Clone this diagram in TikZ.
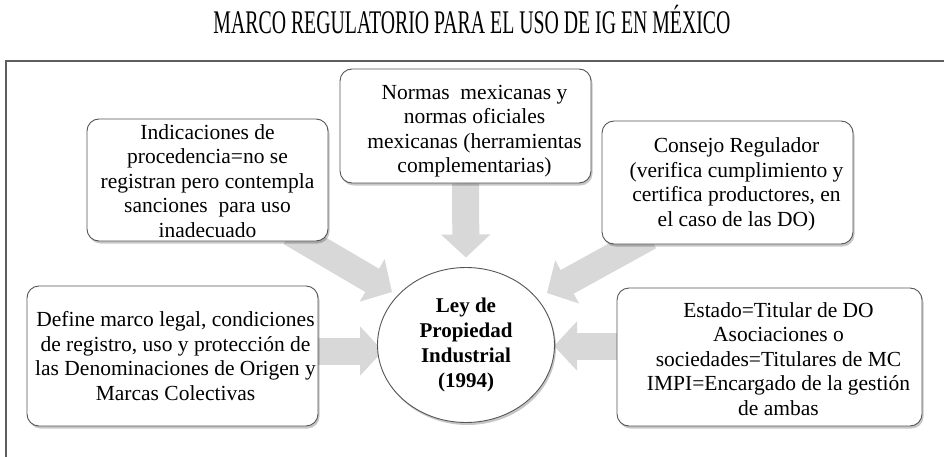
\documentclass[tikz,border=0pt]{standalone}
\usepackage{fontspec}
\setmainfont{Liberation Serif}
\newfontfamily\titlefont[FakeStretch=0.6]{Liberation Serif}
\usetikzlibrary{arrows.meta,shadows,shapes.geometric}
\definecolor{framegray}{HTML}{5E5E5E}
\definecolor{boxline}{HTML}{555555}
\definecolor{arrowgray}{HTML}{D8D8D8}
\pgfdeclarelayer{bg}
\pgfsetlayers{bg,main}
\begin{document}
\begin{tikzpicture}[x=1pt,y=1pt,
  box/.style={draw=boxline, line width=0.9pt, fill=white, rounded corners=12pt, inner sep=0pt,
    drop shadow={shadow xshift=1.5pt, shadow yshift=-2.5pt, opacity=0.22, fill=black}},
  txt/.style={align=center, font=\fontsize{21.5}{24.5}\selectfont, inner sep=0pt},
  bigarrow/.style={draw=arrowgray, line width=27pt, -{Triangle[width=48pt,length=23pt]}},
]
\useasboundingbox (0,0) rectangle (944,-457);

% title
\node[anchor=base, inner sep=0pt, font=\titlefont\fontsize{33}{36}\selectfont] (title) at (472,-34)
  {MARCO REGULATORIO PARA EL USO DE IG EN MÉXICO};

% frame
\draw[framegray, line width=1.8pt] (6,-457) -- (6,-61) -- (944,-61);

% boxes
\node[box, minimum width=251pt, minimum height=114pt] (nom) at (465.5,-126) {};
\node[box, minimum width=241pt, minimum height=122pt] (lu) at (207.5,-180) {};
\node[box, minimum width=251pt, minimum height=123pt] (ru) at (727.5,-182.5) {};
\node[box, minimum width=291pt, minimum height=140pt] (lb) at (172.5,-356) {};
\node[box, minimum width=305pt, minimum height=138pt] (rb) at (769.5,-357) {};
\node[draw=boxline, line width=0.9pt, fill=white, ellipse, inner sep=0pt,
  minimum width=177pt, minimum height=155pt,
  drop shadow={shadow xshift=1.5pt, shadow yshift=-2.5pt, opacity=0.22, fill=black}] (ley) at (466,-345) {};

% texts
\node[txt] (nomT) at ([xshift=9pt,yshift=-5pt]nom.center)
  {Normas\ \ mexicanas y\\ normas oficiales\\ mexicanas (herramientas\\ complementarias)};
\node[txt] (luT) at ([yshift=-1pt]lu.center)
  {Indicaciones de\\ procedencia=no se\\ registran pero contempla\\ sanciones\ \ para uso\\ inadecuado};
\node[txt] (ruT) at ([xshift=9pt,yshift=-2pt]ru.center)
  {Consejo Regulador\\ (verifica cumplimiento y\\ certifica productores, en\\ el caso de las DO)};
\node[txt] (lbT) at ([xshift=3pt]lb.center)
  {Define marco legal, condiciones\\ de registro, uso y protección de\\ las Denominaciones de Origen y\\ Marcas Colectivas};
\node[txt] (rbT) at ([xshift=9pt,yshift=-2pt]rb.center)
  {Estado=Titular de DO\\ Asociaciones o\\ sociedades=Titulares de MC\\ IMPI=Encargado de la gestión\\ de ambas};
\node[align=center, inner sep=0pt, font=\bfseries\fontsize{21}{25}\selectfont] (leyT) at (ley.center)
  {Ley de\\ Propiedad\\ Industrial\\ (1994)};

% arrow end points
\coordinate (luS) at ([xshift=-38pt,yshift=9pt]lu.south east);
\coordinate (luE) at (392,-292);
\coordinate (ruS) at ([xshift=48pt,yshift=8pt]ru.south west);
\coordinate (ruE) at (547,-293);
\coordinate (lbE) at (383,-351);
\coordinate (rbE) at (554,-346);

\begin{pgfonlayer}{bg}
\fill[white] (0,0) rectangle (944,-457);
\draw[bigarrow, shorten >=9.5pt] (nom.south) -- (ley.north);
\draw[bigarrow] (luS) -- (luE);
\draw[bigarrow] (ruS) -- (ruE);
\draw[bigarrow] (lb.east |- lbE) -- (lbE);
\draw[bigarrow] (rb.west |- rbE) -- (rbE);
\end{pgfonlayer}
\end{tikzpicture}
\end{document}
